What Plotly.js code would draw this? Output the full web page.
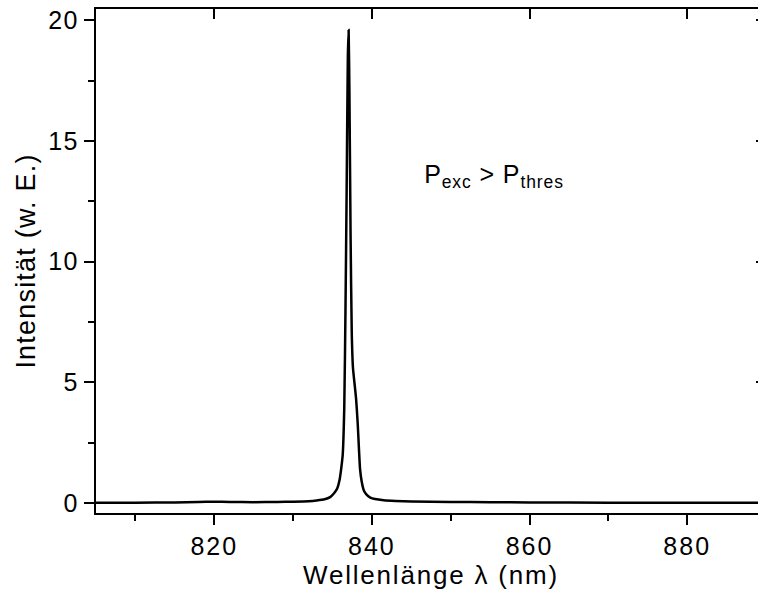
<!DOCTYPE html>
<html>
<head>
<meta charset="utf-8">
<script src="https://cdn.plot.ly/plotly-3.0.1.min.js"></script>
<style>
html,body{margin:0;padding:0;overflow:hidden;background:#fff;}
#chart{width:768px;height:594px;}
#chart .xtick text{letter-spacing:2px;}
#chart .ytick text{letter-spacing:1.5px;}
#chart text.xtitle{letter-spacing:1.8px;}
#chart text.ytitle{letter-spacing:1.2px;}
#chart .annotation-text{letter-spacing:0.9px;}
</style>
</head>
<body>
<div id="chart"></div>
<script>
// Spectrum: wavelength (nm) and intensity (arb. units)
const wavelength = [805, 810, 815, 818, 820, 822, 825, 828, 830, 832, 833, 834, 834.7, 835.2, 835.6, 835.9, 836.1, 836.3, 836.5, 836.65, 836.8, 836.95, 837.05, 837.15, 837.3, 837.45, 837.6, 837.75, 838.0, 838.2, 838.35, 838.5, 838.7, 839.0, 839.3, 839.8, 840.4, 841.5, 843, 845, 850, 855, 860, 870, 880, 889];
const intensity  = [0.0, 0.01, 0.02, 0.04, 0.05, 0.04, 0.03, 0.04, 0.05, 0.07, 0.1, 0.15, 0.24, 0.4, 0.6, 0.95, 1.4, 2.0, 4.0, 8.0, 13.0, 18.5, 19.6, 17.0, 11.0, 7.0, 5.6, 5.1, 4.3, 3.3, 2.3, 1.4, 0.9, 0.5, 0.35, 0.22, 0.16, 0.11, 0.08, 0.06, 0.04, 0.03, 0.02, 0.01, 0.01, 0.0];

const xTickVals = [820, 840, 860, 880];
const yTickVals = [0, 5, 10, 15, 20];
const xRange = [805, 890];
const yRange = [-0.42, 20.47];

const fontFam = 'Liberation Sans, Arial, Helvetica, sans-serif';

const traces = [
  {
    x: wavelength, y: intensity,
    type: 'scatter', mode: 'lines',
    line: {color: '#000', width: 2.5, shape: 'spline', smoothing: 0.5},
    hoverinfo: 'x+y', showlegend: false
  },
  {
    x: [null], y: [null], xaxis: 'x2', yaxis: 'y2',
    type: 'scatter', mode: 'lines', showlegend: false, hoverinfo: 'skip'
  }
];

const layout = {
  width: 768, height: 594,
  margin: {l: 96, r: 2, t: 9, b: 81},
  paper_bgcolor: '#fff', plot_bgcolor: '#fff',
  font: {family: fontFam, color: '#000', size: 25},
  showlegend: false,
  xaxis: {
    range: xRange, tickvals: xTickVals, ticktext: xTickVals.map(String),
    showgrid: false, zeroline: false,
    showline: true, linecolor: '#000', linewidth: 2, mirror: true,
    ticks: 'outside', ticklen: 10, tickwidth: 2, tickcolor: '#000',
    minor: {ticks: 'outside', ticklen: 6, tickwidth: 2, tickcolor: '#000', dtick: 10, tick0: 810, showgrid: false},
    tickfont: {family: fontFam, size: 25, color: '#000'},
    title: {text: 'Wellenlänge λ (nm)', font: {family: fontFam, size: 26, color: '#000'}, standoff: 3}
  },
  yaxis: {
    range: yRange, tickvals: yTickVals, ticktext: yTickVals.map(String),
    showgrid: false, zeroline: false,
    showline: true, linecolor: '#000', linewidth: 2, mirror: true,
    ticks: 'outside', ticklen: 10, tickwidth: 2, tickcolor: '#000',
    minor: {ticks: 'outside', ticklen: 6, tickwidth: 2, tickcolor: '#000', dtick: 2.5, tick0: 0, showgrid: false},
    tickfont: {family: fontFam, size: 25, color: '#000'},
    title: {text: 'Intensität (w. E.)', font: {family: fontFam, size: 27, color: '#000'}, standoff: 8}
  },
  xaxis2: {
    overlaying: 'x', side: 'top', anchor: 'y2', range: xRange, tickvals: xTickVals,
    showticklabels: false, showgrid: false, zeroline: false, showline: false,
    ticks: 'inside', ticklen: 10, tickwidth: 2, tickcolor: '#000'
  },
  yaxis2: {
    overlaying: 'y', side: 'right', anchor: 'x2', range: yRange, tickvals: yTickVals,
    showticklabels: false, showgrid: false, zeroline: false, showline: false,
    ticks: 'inside', ticklen: 10, tickwidth: 2, tickcolor: '#000'
  },
  annotations: [{
    xref: 'x', yref: 'y', x: 847.15, y: 13.55,
    xanchor: 'left', yanchor: 'middle', showarrow: false,
    text: 'P<sub>exc</sub> > P<sub>thres</sub>',
    font: {family: fontFam, size: 25, color: '#000'}
  }]
};

Plotly.newPlot('chart', traces, layout, {displayModeBar: false, staticPlot: true});
</script>
</body>
</html>
